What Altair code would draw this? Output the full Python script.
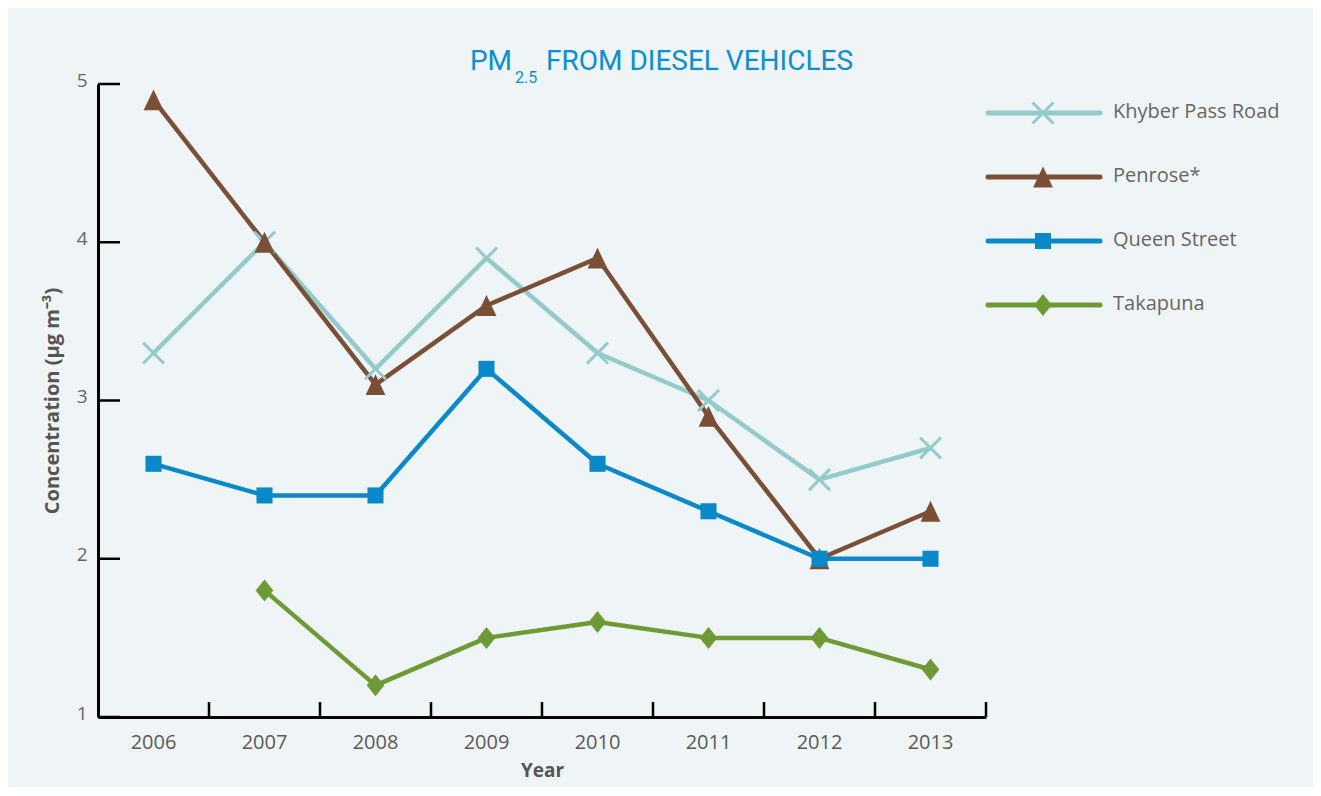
import altair as alt
import pandas as pd

# ---------------- data ----------------
years = ["2006", "2007", "2008", "2009", "2010", "2011", "2012", "2013"]
series_names = ["Khyber Pass Road", "Penrose*", "Queen Street", "Takapuna"]
khyber = [3.3, 4.0, 3.2, 3.9, 3.3, 3.0, 2.5, 2.7]
penrose = [4.9, 4.0, 3.1, 3.6, 3.9, 2.9, 2.0, 2.3]
queen = [2.6, 2.4, 2.4, 3.2, 2.6, 2.3, 2.0, 2.0]
takapuna = [None, 1.8, 1.2, 1.5, 1.6, 1.5, 1.5, 1.3]
y_ticks = [1, 2, 3, 4, 5]

colors = ["#93cbcc", "#7a4f36", "#0a89c9", "#6e9a35"]
shapes = [
    "M-0.95,-0.95L0.95,0.95M-0.95,0.95L0.95,-0.95",
    "M0,-0.95L0.9,0.95L-0.9,0.95Z",
    "M-0.73,-0.73L0.73,-0.73L0.73,0.73L-0.73,0.73Z",
    "M0,-1L0.8,0L0,1L-0.8,0Z",
]

rows = []
for name, vals in zip(series_names, [khyber, penrose, queen, takapuna]):
    for yr, v in zip(years, vals):
        if v is not None:
            rows.append({"year": yr, "series": name, "value": v})
df = pd.DataFrame(rows)
legend_df = pd.DataFrame({"series": series_names})
xt_df = pd.DataFrame({"year": years})
yt_df = pd.DataFrame({"value": y_ticks})

W, H = 888, 633
FONT = "Open Sans"
TITLE_FONT = "Roboto"
TITLE_COLOR = "#0a8fd0"

xscale = alt.Scale(type="band", domain=years, paddingInner=0, paddingOuter=0)
yscale = alt.Scale(domain=[1, 5], nice=False, zero=False)
cscale = alt.Scale(domain=series_names, range=colors)
sscale = alt.Scale(domain=series_names, range=shapes)

x_axis = alt.Axis(
    title="Year", domainColor="#000000", domainWidth=3, ticks=False, grid=False,
    labelFont=FONT, labelFontSize=20, labelColor="#5a5a5a", labelPadding=15, labelAngle=0,
    titleFont=FONT, titleFontSize=19, titleFontWeight="bold", titleColor="#555555", titlePadding=9,
)
y_axis = alt.Axis(
    title="Concentration (µg m⁻³)", values=y_ticks, domainColor="#000000", domainWidth=3,
    ticks=False, grid=False, format="d",
    labelFont=FONT, labelFontSize=19, labelColor="#666666", labelPadding=11, labelOffset=-4,
    titleFont=FONT, titleFontSize=20, titleFontWeight="bold", titleColor="#555555", titlePadding=14,
)

X = alt.X("year:O", scale=xscale, axis=x_axis, bandPosition=0.5)

lines = alt.Chart(df).mark_line(strokeWidth=4.5, strokeJoin="round").encode(
    x=X,
    y=alt.Y("value:Q", scale=yscale, axis=y_axis),
    color=alt.Color("series:N", scale=cscale, legend=None, sort=series_names),
    detail="series:N",
)

is_x = alt.datum.series == "Khyber Pass Road"
points = alt.Chart(df).mark_point(filled=True, size=484, opacity=1).encode(
    x=X,
    y=alt.Y("value:Q", scale=yscale, axis=None),
    fill=alt.Color("series:N", scale=cscale, legend=None),
    stroke=alt.Color("series:N", scale=cscale, legend=None),
    shape=alt.Shape("series:N", scale=sscale, legend=None),
    strokeWidth=alt.condition(is_x, alt.value(3), alt.value(0)),
)

xticks = alt.Chart(xt_df).mark_rule(color="#000000", strokeWidth=2.5).encode(
    x=alt.X("year:O", scale=xscale, axis=x_axis, bandPosition=1),
    y=alt.value(H - 15),
    y2=alt.value(H),
)

yticks = alt.Chart(yt_df).mark_rule(color="#000000", strokeWidth=2.5).encode(
    y=alt.Y("value:Q", scale=yscale, axis=None),
    x=alt.value(0),
    x2=alt.value(22),
)

ly = alt.Y("series:N", scale=alt.Scale(type="point", domain=series_names, range=[29, 221], padding=0), axis=None)

leg_lines = alt.Chart(legend_df).mark_rule(strokeWidth=5, strokeCap="round").encode(
    y=ly, x=alt.value(890), x2=alt.value(1002),
    color=alt.Color("series:N", scale=cscale, legend=None),
)
leg_points = alt.Chart(legend_df).mark_point(filled=True, size=484, opacity=1).encode(
    y=ly, x=alt.value(945),
    fill=alt.Color("series:N", scale=cscale, legend=None),
    stroke=alt.Color("series:N", scale=cscale, legend=None),
    shape=alt.Shape("series:N", scale=sscale, legend=None),
    strokeWidth=alt.condition(is_x, alt.value(3), alt.value(0)),
)
leg_text = alt.Chart(legend_df).mark_text(
    align="left", baseline="middle", font=FONT, fontSize=20, color="#666666", dy=-1
).encode(y=ly, x=alt.value(1015), text="series:N")

title_df = pd.DataFrame({"t": ["PM"]})
t1 = alt.Chart(title_df).mark_text(
    align="right", baseline="alphabetic", font=TITLE_FONT, fontSize=28, color=TITLE_COLOR
).encode(x=alt.value(414), y=alt.value(-14), text=alt.value("PM"))
t2 = alt.Chart(title_df).mark_text(
    align="left", baseline="alphabetic", font=TITLE_FONT, fontSize=16, color=TITLE_COLOR
).encode(x=alt.value(417), y=alt.value(-1), text=alt.value("2.5"))
t3 = alt.Chart(title_df).mark_text(
    align="left", baseline="alphabetic", font=TITLE_FONT, fontSize=28, color=TITLE_COLOR
).encode(x=alt.value(448), y=alt.value(-14), text=alt.value("FROM DIESEL VEHICLES"))

chart = alt.layer(
    lines, points, xticks, yticks, leg_lines, leg_points, leg_text, t1, t2, t3
).resolve_scale(y="independent").properties(
    width=W, height=H,
    autosize=alt.AutoSizeParams(type="none"),
    padding={"left": 90, "top": 76, "right": 327, "bottom": 70},
    background="#eff4f7",
).configure_view(stroke=None)

chart.save("out.html", embed_options={"renderer": "svg", "actions": False})
